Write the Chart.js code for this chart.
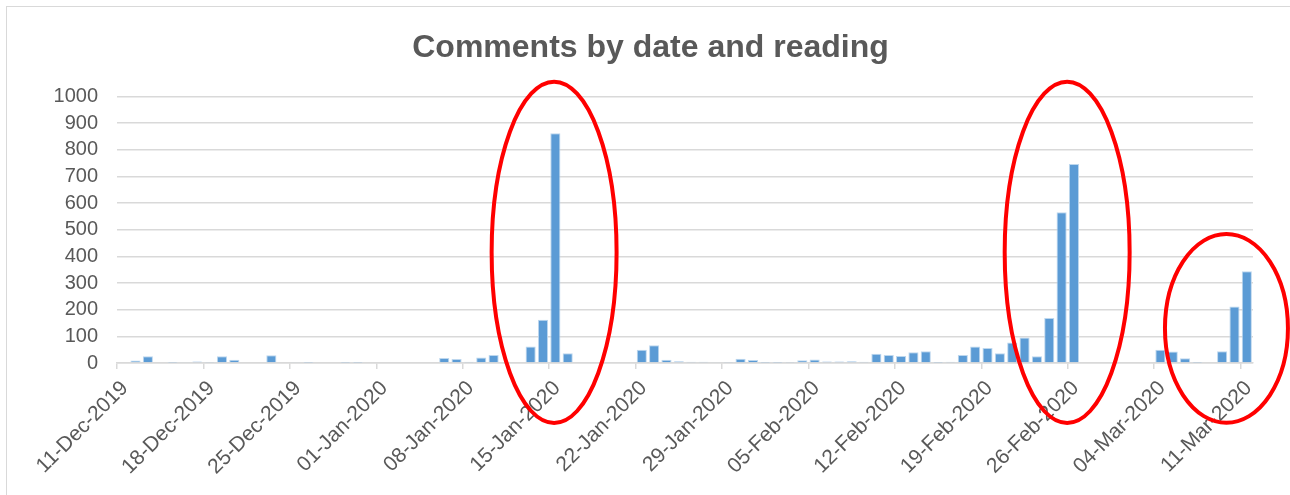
<!DOCTYPE html>
<html>
<head>
<meta charset="utf-8">
<script src="https://cdn.jsdelivr.net/npm/chart.js@4/dist/chart.umd.min.js"></script>
<style>
  html, body { margin: 0; padding: 0; background: #fff; overflow: hidden; }
  #wrap { position: relative; width: 1290px; height: 495px; }
  #frame { position: absolute; left: 6px; top: 6px; width: 1400px; height: 600px;
           border: 1.5px solid #D9D9D9; pointer-events: none; }
</style>
</head>
<body>
<div id="wrap">
  <canvas id="chart" width="1290" height="495"></canvas>
  <div id="frame"></div>
</div>
<script>
// dias (categorias)
const dates = [
  '11-Dec-2019','12-Dec-2019','13-Dec-2019','14-Dec-2019','15-Dec-2019','16-Dec-2019','17-Dec-2019',
  '18-Dec-2019','19-Dec-2019','20-Dec-2019','21-Dec-2019','22-Dec-2019','23-Dec-2019','24-Dec-2019',
  '25-Dec-2019','26-Dec-2019','27-Dec-2019','28-Dec-2019','29-Dec-2019','30-Dec-2019','31-Dec-2019',
  '01-Jan-2020','02-Jan-2020','03-Jan-2020','04-Jan-2020','05-Jan-2020','06-Jan-2020','07-Jan-2020',
  '08-Jan-2020','09-Jan-2020','10-Jan-2020','11-Jan-2020','12-Jan-2020','13-Jan-2020','14-Jan-2020',
  '15-Jan-2020','16-Jan-2020','17-Jan-2020','18-Jan-2020','19-Jan-2020','20-Jan-2020','21-Jan-2020',
  '22-Jan-2020','23-Jan-2020','24-Jan-2020','25-Jan-2020','26-Jan-2020','27-Jan-2020','28-Jan-2020',
  '29-Jan-2020','30-Jan-2020','31-Jan-2020','01-Feb-2020','02-Feb-2020','03-Feb-2020','04-Feb-2020',
  '05-Feb-2020','06-Feb-2020','07-Feb-2020','08-Feb-2020','09-Feb-2020','10-Feb-2020','11-Feb-2020',
  '12-Feb-2020','13-Feb-2020','14-Feb-2020','15-Feb-2020','16-Feb-2020','17-Feb-2020','18-Feb-2020',
  '19-Feb-2020','20-Feb-2020','21-Feb-2020','22-Feb-2020','23-Feb-2020','24-Feb-2020','25-Feb-2020',
  '26-Feb-2020','27-Feb-2020','28-Feb-2020','29-Feb-2020','01-Mar-2020','02-Mar-2020','03-Mar-2020',
  '04-Mar-2020','05-Mar-2020','06-Mar-2020','07-Mar-2020','08-Mar-2020','09-Mar-2020','10-Mar-2020',
  '11-Mar-2020'
];

// comentarios por dia
const comments = [
  // dez 11-31
  0, 9, 25, 0, 1, 2, 6, 4, 25, 12, 0, 0, 29, 0, 2, 1, 0, 0, 1, 1, 0,
  // jan
  0, 0, 0, 0, 0, 19, 15, 5, 21, 30, 0, 0, 62, 162, 862, 37, 0, 0, 0, 0, 0,
  50, 67, 12, 7, 5, 5, 2, 4, 16, 11,
  // fev
  1, 1, 4, 10, 13, 6, 6, 7, 5, 35, 30, 26, 40, 44, 1, 5, 30, 62, 56, 37, 77,
  96, 25, 169, 565, 746, 0, 0, 0,
  // mar
  0, 0, 0, 50, 43, 18, 1, 0, 44, 212, 344
];

const yTicks = [0, 100, 200, 300, 400, 500, 600, 700, 800, 900, 1000];

// elipses vermelhas (em unidades de dia / valor)
const highlights = [
  { day: 35.4, value: 415, rDays: 5.06, rValue: 640 },
  { day: 76.95, value: 415, rDays: 5.06, rValue: 640 },
  { day: 89.85, value: 130, rDays: 4.98, rValue: 354 }
];

const fontFamily = '"Liberation Sans", Arial, sans-serif';
const grey = '#595959';
const gridGrey = '#D9D9D9';

const ellipsePlugin = {
  id: 'ellipses',
  afterDraw(chart) {
    const ctx = chart.ctx;
    const xs = chart.scales.x;
    const ys = chart.scales.y;
    ctx.save();
    ctx.strokeStyle = '#FF0000';
    ctx.lineWidth = 4;
    highlights.forEach(h => {
      const cx = xs.getPixelForValue(h.day);
      const cy = ys.getPixelForValue(h.value);
      const rx = Math.abs(xs.getPixelForValue(h.day + h.rDays) - cx);
      const ry = Math.abs(ys.getPixelForValue(h.value + h.rValue) - cy);
      ctx.beginPath();
      ctx.ellipse(cx, cy, rx, ry, 0, 0, Math.PI * 2);
      ctx.stroke();
    });
    ctx.restore();
  }
};

new Chart(document.getElementById('chart'), {
  type: 'bar',
  data: {
    datasets: [{
      label: 'Comments',
      data: comments.map((v, i) => ({ x: i + 0.5, y: v })),
      backgroundColor: '#5B9BD5',
      borderColor: '#BDD7EE',
      borderWidth: 1,
      barPercentage: 0.82,
      categoryPercentage: 1
    }]
  },
  options: {
    responsive: false,
    animation: false,
    layout: { padding: { left: 11, right: 0, top: 0, bottom: 0 } },
    plugins: {
      legend: { display: false },
      tooltip: { enabled: false },
      title: {
        display: true,
        text: 'Comments by date and reading',
        color: grey,
        font: { family: fontFamily, size: 32, weight: 'bold', lineHeight: 1.2 },
        padding: { top: 29, bottom: 29 }
      }
    },
    scales: {
      x: {
        type: 'linear',
        min: 0,
        max: dates.length,
        offset: false,
        afterFit: scale => { scale.height = 132; },
        afterBuildTicks: scale => {
          const t = [];
          for (let i = 0; i < dates.length; i += 7) t.push({ value: i });
          scale.ticks = t;
        },
        grid: { offset: false, drawOnChartArea: false, drawTicks: true, tickLength: 6, color: gridGrey, lineWidth: 1.5 },
        border: { display: true, color: gridGrey, width: 1.5 },
        ticks: {
          autoSkip: false,
          minRotation: 45,
          maxRotation: 45,
          padding: 7,
          labelOffset: 8,
          color: grey,
          font: { family: fontFamily, size: 21 },
          callback: value => dates[value] || ''
        }
      },
      y: {
        min: yTicks[0],
        max: yTicks[yTicks.length - 1],
        afterFit: scale => { scale.width = 106; },
        afterBuildTicks: scale => { scale.ticks = yTicks.map(v => ({ value: v })); },
        grid: { drawTicks: false, color: gridGrey, lineWidth: 1.5 },
        border: { display: false },
        ticks: {
          autoSkip: false,
          padding: 19,
          color: grey,
          font: { family: fontFamily, size: 20 },
          callback: value => String(value)
        }
      },
      // eixo vazio so para reservar a margem direita
      yRight: {
        position: 'right',
        afterFit: scale => { scale.width = 37; },
        grid: { display: false },
        border: { display: false },
        ticks: { display: false }
      }
    }
  },
  plugins: [ellipsePlugin]
});
</script>
</body>
</html>
